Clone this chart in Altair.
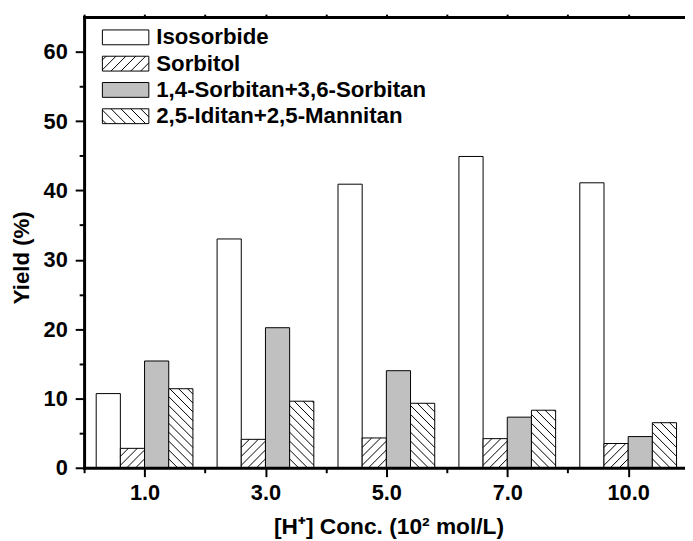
import altair as alt
import pandas as pd

# ---------------- data ----------------
concs = ["1.0", "3.0", "5.0", "7.0", "10.0"]
series = ["Isosorbide", "Sorbitol", "1,4-Sorbitan+3,6-Sorbitan", "2,5-Iditan+2,5-Mannitan"]
isosorbide = [10.7, 33.0, 40.9, 44.9, 41.1]
sorbitol = [2.8, 4.1, 4.3, 4.2, 3.5]
sorbitans = [15.4, 20.2, 14.0, 7.3, 4.5]
iditans = [11.4, 9.6, 9.3, 8.3, 6.5]

values_by_series = [isosorbide, sorbitol, sorbitans, iditans]
rows = []
for si, (name, vals) in enumerate(zip(series, values_by_series)):
    for gi, (c, v) in enumerate(zip(concs, vals)):
        rows.append({"pos": gi + 1, "conc": c, "series": name, "sidx": si, "value": v})
df = pd.DataFrame(rows)

# ---------------- geometry / style ----------------
W, H = 608, 456
XD = [0.5, 5.47]
YD = [0, 65]
KX = W / (XD[1] - XD[0])
KY = H / (YD[1] - YD[0])
BW = 0.2                      # bar width in x units
DY = BW * KX / KY             # 45 degree hatch rise across a bar (y units)
SY = 9.0 / KY                 # hatch spacing (y units)
FONT = "Liberation Sans"
GRAY = "#c0c0c0"


def hatch_path(direction, w=1.88, h=0.6, spacing=0.8):
    p = f"M{-w},{-h}L{w},{-h}L{w},{h}L{-w},{h}Z"
    if direction == 0:
        return p
    run = 2 * h
    x0 = -w - run + 0.3
    while x0 < w:
        t0 = max(0.0, (-w - x0) / run)
        t1 = min(1.0, (w - x0) / run)
        if t1 > t0:
            xs, xe = x0 + t0 * run, x0 + t1 * run
            if direction > 0:
                ys, ye = h - t0 * 2 * h, h - t1 * 2 * h
            else:
                ys, ye = -h + t0 * 2 * h, -h + t1 * 2 * h
            p += f"M{xs:.3f},{ys:.3f}L{xe:.3f},{ye:.3f}"
        x0 += spacing
    return p


shapes = [hatch_path(0), hatch_path(1), hatch_path(0), hatch_path(-1)]
fills = ["white", "white", GRAY, "white"]
fill_arr = "[" + ",".join(f"'{c}'" for c in fills) + "]"

xscale = alt.Scale(domain=XD, nice=False, zero=False)
yscale = alt.Scale(domain=YD, nice=False, zero=True)
fill_scale = alt.Scale(domain=series, range=fills)
shape_scale = alt.Scale(domain=series, range=shapes)

xvals = [0.5 + 0.5 * i for i in range(10)]
label_arr = "[" + ",".join(f"'{c}'" for c in concs) + "]"

axis_common = dict(
    domainColor="black", domainWidth=3, domainCap="square",
    tickColor="black", tickWidth=2, grid=False,
    labelFont=FONT, labelFontSize=22, labelFontWeight="bold", labelColor="black",
    titleFont=FONT, titleFontWeight="bold", titleColor="black",
    labelOverlap=False, labelFlush=False, labelBound=False, zindex=1,
)

bottom_axis = alt.Axis(
    orient="bottom", values=xvals,
    labelExpr=f"datum.value % 1 === 0 ? {label_arr}[datum.value - 1] : ''",
    tickSize={"condition": {"test": "datum.value % 1 === 0", "value": 9}, "value": 5},
    labelPadding=6, title="[H\u207a] Conc. (10\u00b2 mol/L)",
    titleFontSize=23, titleX=308, titleY=67, titleAlign="center", titleBaseline="alphabetic",
    **axis_common,
)
top_axis = alt.Axis(
    orient="top", values=xvals, labels=False, tickSize=3, title="",
    **axis_common,
)
left_axis = alt.Axis(
    orient="left", values=list(range(0, 61, 5)),
    labelExpr="datum.value % 10 === 0 ? datum.label : ''",
    tickSize={"condition": {"test": "datum.value % 10 === 0", "value": 9}, "value": 5},
    labelPadding=8, title="Yield (%)", titleFontSize=22.5,
    titleX=-63, titleY=243, titleAngle=270, titleAlign="center", titleBaseline="middle",
    **axis_common,
)

base = alt.Chart(df).transform_calculate(
    xl=f"datum.pos - 0.4 + datum.sidx * {BW}",
    xr=f"datum.pos - 0.4 + datum.sidx * {BW} + {BW}",
)

bars = base.transform_calculate(fillc=f"{fill_arr}[datum.sidx]").mark_bar(
    stroke="black", strokeWidth=1
).encode(
    x=alt.X("xl:Q", scale=xscale, axis=bottom_axis),
    x2="xr:Q",
    y=alt.Y("value:Q", scale=yscale, axis=left_axis),
    y2=alt.datum(0),
    fill=alt.Fill("fillc:N", scale=None),
)

hatch = (
    base.transform_calculate(dir="datum.sidx == 1 ? 1 : (datum.sidx == 3 ? -1 : 0)")
    .transform_filter("datum.dir != 0")
    .transform_calculate(ks=f"sequence(0, ceil((datum.value + {DY}) / {SY}) + 1)")
    .transform_flatten(["ks"], as_=["k"])
    .transform_calculate(y0=f"-{DY} + datum.k * {SY}")
    .transform_calculate(ya="max(datum.y0, 0)", yb=f"min(datum.y0 + {DY}, datum.value)")
    .transform_filter("datum.yb - datum.ya > 0.001")
    .transform_calculate(
        fa=f"(datum.ya - datum.y0) / {DY}",
        fb=f"(datum.yb - datum.y0) / {DY}",
    )
    .transform_calculate(
        xa=f"datum.dir > 0 ? datum.xl + datum.fa * {BW} : datum.xr - datum.fa * {BW}",
        xb=f"datum.dir > 0 ? datum.xl + datum.fb * {BW} : datum.xr - datum.fb * {BW}",
    )
    .mark_rule(color="black", strokeWidth=1)
    .encode(
        x=alt.X("xa:Q", scale=xscale, axis=top_axis),
        x2="xb:Q",
        y=alt.Y("ya:Q", scale=yscale, axis=None),
        y2="yb:Q",
    )
)

legend = alt.Legend(
    title=None, orient="none", legendX=29, legendY=7.5, padding=0, rowPadding=1.6,
    labelFont=FONT, labelFontSize=22.5, labelFontWeight="bold", labelColor="black",
    labelOffset=18, labelLimit=400, symbolSize=625,
    symbolStrokeColor="black", symbolStrokeWidth=1,
)

legend_layer = (
    alt.Chart(df)
    .transform_filter("datum.value < 0")
    .mark_point(filled=True, stroke="black", strokeWidth=1, opacity=1)
    .encode(
        x=alt.X("pos:Q", scale=xscale, axis=None),
        y=alt.Y("value:Q", scale=yscale, axis=None),
        fill=alt.Fill("series:N", scale=fill_scale, legend=legend),
        shape=alt.Shape("series:N", scale=shape_scale, legend=legend),
    )
)

chart = (
    alt.layer(bars, hatch, legend_layer)
    .resolve_axis(x="independent", y="independent")
    .properties(
        width=W, height=H,
        autosize=alt.AutoSizeParams(type="none"),
        padding={"left": 77, "top": 6, "right": 0, "bottom": 80},
    )
    .configure_view(stroke="transparent")
)

chart.save("out.html", embed_options={"renderer": "svg", "actions": False})
